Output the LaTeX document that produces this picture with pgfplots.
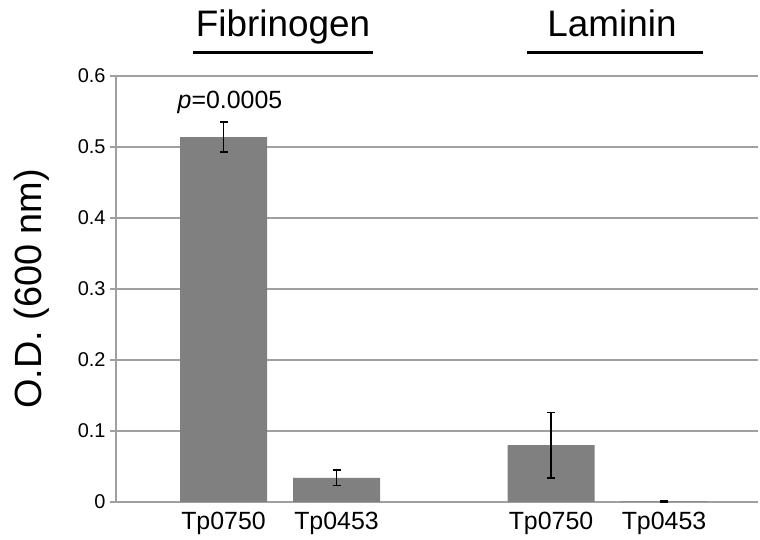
\documentclass[border=0pt]{standalone}
\usepackage{pgfplots}
\pgfplotsset{compat=1.18}
\usepackage{fontspec}
\setmainfont{Liberation Sans}
\definecolor{barcol}{RGB}{128,128,128}
\definecolor{gridcol}{RGB}{160,160,160}
\begin{document}
\begin{tikzpicture}[x=1bp,y=1bp]
\useasboundingbox (0,0) rectangle (760,540);
\begin{axis}[
  at={(116bp,38bp)}, anchor=south west,
  scale only axis, width=642bp, height=426bp,
  xmin=116, xmax=758, ymin=0, ymax=0.6,
  clip=false,
  /pgf/number format/assume math mode=true,
  ytick={0,0.1,0.2,0.3,0.4,0.5,0.6},
  yticklabels={0,0.1,0.2,0.3,0.4,0.5,0.6},
  xtick={223.5,336.5,551,664},
  xticklabels={Tp0750,Tp0453,Tp0750,Tp0453},
  ymajorgrids, grid style={gridcol, line width=1.3bp},
  axis x line=bottom, axis y line=left,
  axis line style={-, gridcol, line width=1.3bp},
  tick align=outside, major tick length=6bp,
  ytick style={gridcol, line width=1.3bp},
  xtick style={draw=none},
  yticklabel style={font=\fontsize{20}{24}\selectfont, xshift=-1bp},
  xticklabel style={font=\fontsize{25}{29}\selectfont, yshift=-1bp},
]
\addplot[ybar, bar width=87, fill=barcol, draw=none,
  error bars/.cd, y dir=both, y explicit,
  error bar style={black, line width=1.8bp},
  error mark options={rotate=90, mark size=4bp, line width=1.5bp, black}]
  coordinates {
    (223.5,0.514) +- (0,0.021)
    (336.5,0.034) +- (0,0.011)
    (551,0.080) +- (0,0.046)
    (664,0.001) +- (0,0.001)
  };
\node[font=\fontsize{25}{29}\selectfont, anchor=base] at (axis cs:230,0.554) {\textit{p}=0.0005};
\node[font=\fontsize{37}{41}\selectfont, anchor=base] at (axis cs:283,0.655) {Fibrinogen};
\node[font=\fontsize{37}{41}\selectfont, anchor=base] at (axis cs:612,0.655) {Laminin};
\draw[line width=3bp] (axis cs:193,0.633) -- (axis cs:373,0.633);
\draw[line width=3bp] (axis cs:527,0.633) -- (axis cs:703,0.633);
\node[font=\fontsize{38}{42}\selectfont, rotate=90] at (axis cs:32,0.3) {O.D. (600 nm)};
\end{axis}
\end{tikzpicture}
\end{document}
